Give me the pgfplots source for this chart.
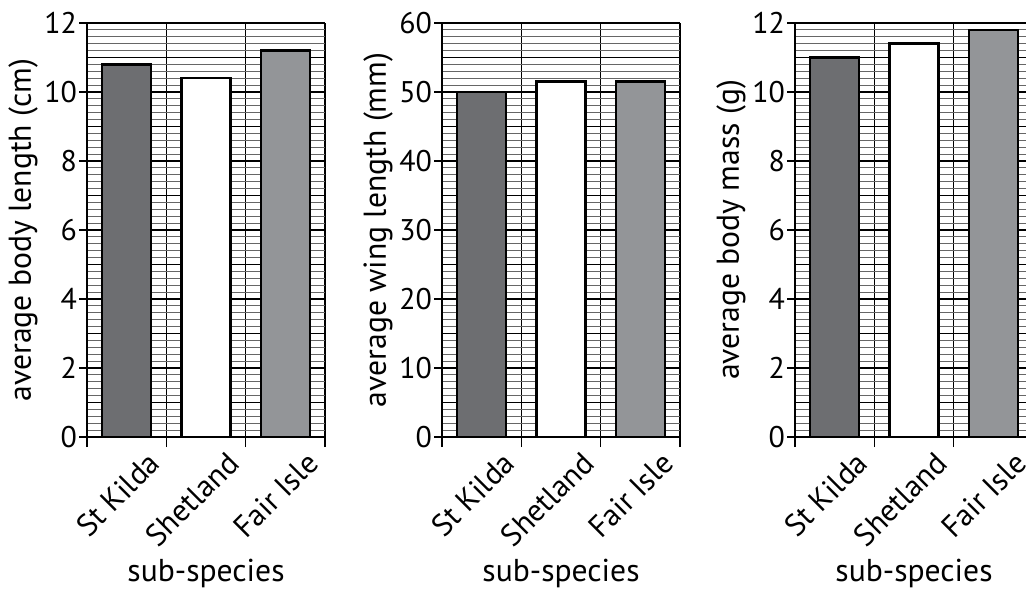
\documentclass[border=0pt]{standalone}
\usepackage{fontspec}
\setmainfont{PT Sans}
\usepackage{pgfplots}
\pgfplotsset{compat=1.18}

\definecolor{darkbar}{HTML}{6D6E71}
\definecolor{lightbar}{HTML}{939598}

\pgfplotsset{
  panel/.style={
    scale only axis, width=4.76cm, height=8.28cm,
    xmin=0.5, xmax=3.5, ymin=0,
    axis x line*=bottom, axis y line*=left,
    axis line style={line width=1.6pt},
    tick align=outside,
    xtick={1,2,3},
    xticklabels={St Kilda,Shetland,Fair Isle},
    major x tick style={draw=none},
    minor xtick={0.5,1.5,2.5,3.5},
    minor tick length=0.2cm,
    major tick length=0.16cm,
    minor x tick style={black, line width=0.9pt},
    major y tick style={black, line width=1.1pt},
    minor y tick style={draw=none},
    xmajorgrids=false, ymajorgrids=true,
    xminorgrids=true, yminorgrids=true,
    major grid style={black, line width=1.1pt},
    minor x grid style={black, line width=0.9pt},
    minor y grid style={black!60, line width=0.5pt},
    minor y tick num=9,
    xticklabel style={rotate=45, anchor=east, xshift=0.33cm, yshift=-0.57cm,
      font=\fontsize{17.5}{20}\selectfont},
    yticklabel style={inner sep=1pt, font=\fontsize{17}{20}\selectfont},
    /pgf/number format/assume math mode=true,
    label style={font=\fontsize{18}{21}\selectfont},
    xlabel={sub-species},
    xlabel style={at={(axis description cs:0.5,-0.33)}, anchor=center},
    ylabel style={at={(axis description cs:-0.269,0.5)}, anchor=center},
    ybar, bar width=0.62, bar shift=0pt,
    every axis plot/.append style={draw=black, line width=1.4pt},
  },
}

\begin{document}
\begin{tikzpicture}
\begin{axis}[panel, at={(1.74cm,3.06cm)},
  ymax=12, ytick={0,2,...,12},
  extra y ticks={1,3,5,7,9,11}, extra y tick labels={},
  extra y tick style={major grid style={black, line width=0.7pt}, major y tick style={draw=none}},
  ylabel={average body length (cm)}]
  \addplot[fill=darkbar] coordinates {(1,10.8)};
  \addplot[fill=white] coordinates {(2,10.4)};
  \addplot[fill=lightbar] coordinates {(3,11.2)};
\end{axis}
\begin{axis}[panel, at={(8.84cm,3.06cm)},
  ymax=60, ytick={0,10,...,60},
  extra y ticks={5,15,25,35,45,55}, extra y tick labels={},
  extra y tick style={major grid style={black, line width=0.7pt}, major y tick style={draw=none}},
  ylabel={average wing length (mm)}]
  \addplot[fill=darkbar] coordinates {(1,50)};
  \addplot[fill=white] coordinates {(2,51.5)};
  \addplot[fill=lightbar] coordinates {(3,51.5)};
\end{axis}
\begin{axis}[panel, at={(15.9cm,3.06cm)},
  ymax=12, ytick={0,2,...,12},
  extra y ticks={1,3,5,7,9,11}, extra y tick labels={},
  extra y tick style={major grid style={black, line width=0.7pt}, major y tick style={draw=none}},
  ylabel={average body mass (g)}]
  \addplot[fill=darkbar] coordinates {(1,11.0)};
  \addplot[fill=white] coordinates {(2,11.4)};
  \addplot[fill=lightbar] coordinates {(3,11.8)};
\end{axis}
\pgfresetboundingbox
\path[use as bounding box] (0,0) rectangle (20.52cm,11.8cm);
\end{tikzpicture}
\end{document}
